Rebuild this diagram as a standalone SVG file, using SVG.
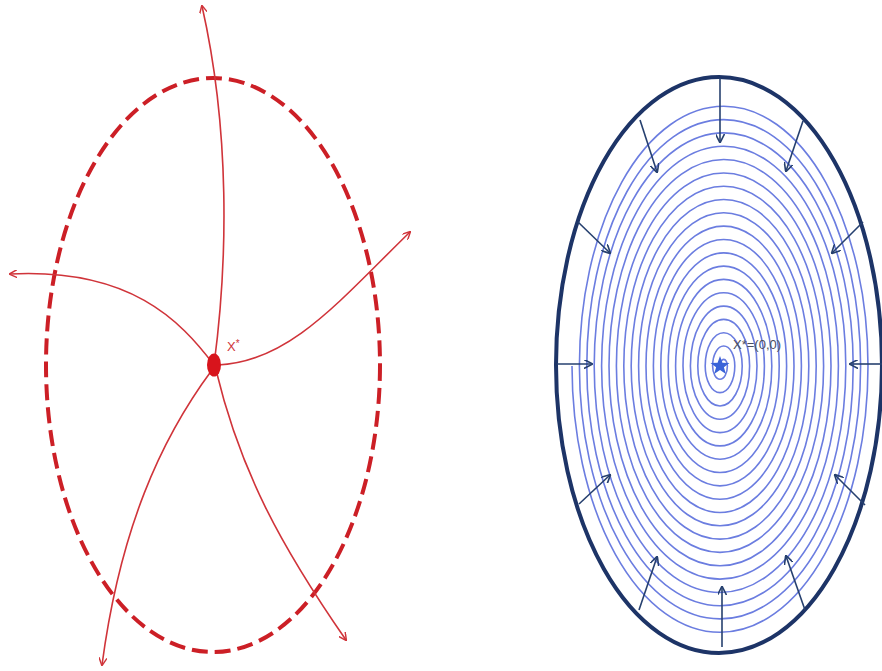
<svg xmlns="http://www.w3.org/2000/svg" width="882" height="671" viewBox="0 0 882 671">
<style>
.dash{fill:none;stroke:#cc1f26;stroke-width:4;stroke-dasharray:16 7}
.red{fill:none;stroke:#d0343a;stroke-width:1.6;marker-end:url(#ra)}
.nav{fill:none;stroke:#26406f;stroke-width:1.6;marker-end:url(#na)}
.spiral{fill:none;stroke:#6b7de0;stroke-width:1.6}
.lbl{font-family:"Liberation Sans",Arial,sans-serif;font-size:13px}
</style>
<defs>
<marker id="ra" viewBox="0 0 10 10" refX="9" refY="5" markerWidth="8" markerHeight="8" markerUnits="userSpaceOnUse" orient="auto"><path d="M0,0 L10,5 L0,10" fill="none" stroke="#d0343a" stroke-width="1.8"/></marker>
<marker id="na" viewBox="0 0 10 10" refX="9" refY="5" markerWidth="9" markerHeight="9" markerUnits="userSpaceOnUse" orient="auto"><path d="M0,0 L10,5 L0,10" fill="none" stroke="#26406f" stroke-width="1.8"/></marker>
</defs>
<rect width="882" height="671" fill="#fff"/>
<g id="left-diagram">
<ellipse id="boundary-left" class="dash" cx="213" cy="365" rx="167" ry="287"/>
<g id="connectors-left">
<path class="red" d="M214,365 C228,260 230,130 202,6"/>
<path class="red" d="M214,365 C180,320 130,268 10,274"/>
<path class="red" d="M218,365 C290,362 340,300 410,232"/>
<path class="red" d="M212,370 C160,440 120,530 102,665"/>
<path class="red" d="M216,370 C240,470 280,545 346,640"/>
</g>
<g id="node-xstar">
<ellipse cx="214" cy="365" rx="7" ry="11.5" fill="#d8141c"/>
<text class="lbl" x="227" y="351" fill="#d0343a">X<tspan font-size="10" dy="-4">*</tspan></text>
</g>
</g>
<g id="right-diagram">
<path id="spiral" class="spiral" d="M720,366 A3.7,6.66 0 0 1 727.4,366 A7.4,13.32 0 0 1 712.6,366 A11.1,19.98 0 0 1 734.8,366 A14.8,26.64 0 0 1 705.2,366 A18.5,33.3 0 0 1 742.2,366 A22.2,39.96 0 0 1 697.8,366 A25.9,46.62 0 0 1 749.6,366 A29.6,53.28 0 0 1 690.4,366 A33.3,59.94 0 0 1 757,366 A37,66.6 0 0 1 683,366 A40.7,73.26 0 0 1 764.4,366 A44.4,79.92 0 0 1 675.6,366 A48.1,86.58 0 0 1 771.8,366 A51.8,93.24 0 0 1 668.2,366 A55.5,99.9 0 0 1 779.2,366 A59.2,106.56 0 0 1 660.8,366 A62.9,113.22 0 0 1 786.6,366 A66.6,119.88 0 0 1 653.4,366 A70.3,126.54 0 0 1 794,366 A74,133.2 0 0 1 646,366 A77.7,139.86 0 0 1 801.4,366 A81.4,146.52 0 0 1 638.6,366 A85.1,153.18 0 0 1 808.8,366 A88.8,159.84 0 0 1 631.2,366 A92.5,166.5 0 0 1 816.2,366 A96.2,173.16 0 0 1 623.8,366 A99.9,179.82 0 0 1 823.6,366 A103.6,186.48 0 0 1 616.4,366 A107.3,193.14 0 0 1 831,366 A111,199.8 0 0 1 609,366 A114.7,206.46 0 0 1 838.4,366 A118.4,213.12 0 0 1 601.6,366 A122.1,219.78 0 0 1 845.8,366 A125.8,226.44 0 0 1 594.2,366 A129.5,233.1 0 0 1 853.2,366 A133.2,239.76 0 0 1 586.8,366 A136.9,246.42 0 0 1 860.6,366 A140.6,253.08 0 0 1 579.4,366 A144.3,259.74 0 0 1 868,366 A148,266.4 0 0 1 572,366"/>
<ellipse id="boundary-right" cx="719" cy="365" rx="163" ry="288" fill="none" stroke="#1d3467" stroke-width="4"/>
<g id="connectors-right">
<path class="nav" d="M720,78 L720,142"/>
<path class="nav" d="M640,120 L657,172"/>
<path class="nav" d="M803,121 L786,171"/>
<path class="nav" d="M578,222 L610,253"/>
<path class="nav" d="M863,222 L832,253"/>
<path class="nav" d="M557,364 L592,364"/>
<path class="nav" d="M882,364 L850,364"/>
<path class="nav" d="M579,504 L610,475"/>
<path class="nav" d="M865,505 L835,475"/>
<path class="nav" d="M639,610 L657,557"/>
<path class="nav" d="M805,610 L786,556"/>
<path class="nav" d="M722,647 L722,587"/>
</g>
<g id="node-origin">
<polygon points="720,356 722.4,362.7 729.5,362.9 723.9,367.3 725.9,374.1 720,370.1 714.1,374.1 716.1,367.3 710.5,362.9 717.6,362.7" fill="#3a63d8"/>
<text class="lbl" x="733" y="349" fill="#4a4f60">X*=(0,0)</text>
</g>
</g>
</svg>
